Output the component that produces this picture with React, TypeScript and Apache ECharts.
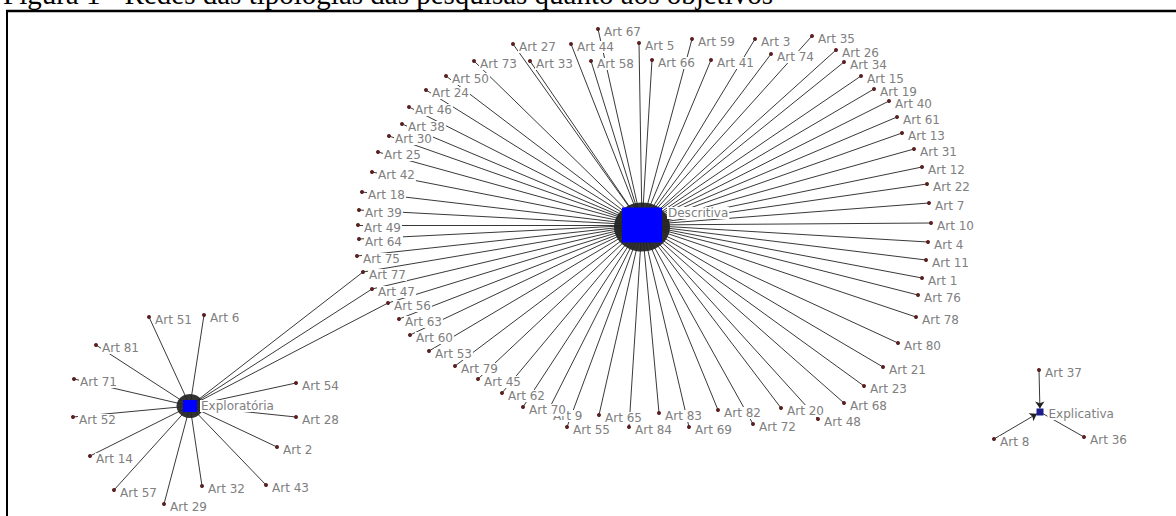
import React, { useEffect, useRef } from 'react';
import * as echarts from 'echarts';

// Hub nodes (research typologies) and their positions
const hubNames = ['Descritiva', 'Exploratória', 'Explicativa'];
const hubX = [642, 190, 1040];
const hubY = [225, 406, 412];

// Articles linked to "Descritiva": [name, x, y]
const descritivaNodes: [string, number, number][] = [
  ['Art 67', 598, 29], ['Art 27', 513, 44], ['Art 44', 571, 44], ['Art 5', 639, 43],
  ['Art 59', 692, 39], ['Art 3', 755, 39], ['Art 35', 812, 36], ['Art 73', 474, 61],
  ['Art 33', 530, 61], ['Art 58', 591, 61], ['Art 66', 652, 60], ['Art 41', 711, 60],
  ['Art 74', 771, 54], ['Art 26', 836, 50], ['Art 34', 844, 62], ['Art 15', 861, 76],
  ['Art 19', 874, 89], ['Art 40', 889, 101], ['Art 61', 897, 117], ['Art 13', 902, 133],
  ['Art 31', 914, 149], ['Art 12', 922, 167], ['Art 22', 927, 184], ['Art 7', 929, 203],
  ['Art 10', 931, 223], ['Art 4', 928, 242], ['Art 11', 926, 260], ['Art 1', 922, 278],
  ['Art 76', 918, 295], ['Art 78', 916, 317], ['Art 80', 898, 343], ['Art 21', 883, 367],
  ['Art 23', 864, 386], ['Art 68', 844, 403], ['Art 48', 818, 419], ['Art 20', 781, 408],
  ['Art 72', 753, 424], ['Art 82', 718, 410], ['Art 69', 689, 427], ['Art 83', 659, 413],
  ['Art 84', 629, 427], ['Art 65', 599, 415], ['Art 55', 567, 427], ['Art 9', 547, 413],
  ['Art 70', 523, 407], ['Art 62', 502, 393], ['Art 45', 478, 379], ['Art 79', 455, 366],
  ['Art 53', 429, 351], ['Art 60', 410, 335], ['Art 63', 399, 319], ['Art 56', 388, 303],
  ['Art 47', 372, 289], ['Art 77', 363, 272], ['Art 75', 357, 256], ['Art 64', 359, 239],
  ['Art 49', 358, 225], ['Art 39', 359, 210], ['Art 18', 362, 192], ['Art 42', 372, 172],
  ['Art 25', 378, 152], ['Art 30', 389, 136], ['Art 38', 402, 124], ['Art 46', 409, 107],
  ['Art 24', 426, 90], ['Art 50', 446, 76],
];

// Articles linked to "Exploratória": [name, x, y]
const exploratoriaNodes: [string, number, number][] = [
  ['Art 51', 149, 317], ['Art 6', 204, 315], ['Art 81', 96, 345], ['Art 71', 74, 379],
  ['Art 54', 296, 383], ['Art 52', 73, 417], ['Art 28', 296, 417], ['Art 2', 277, 447],
  ['Art 14', 90, 456], ['Art 57', 114, 490], ['Art 32', 202, 486], ['Art 43', 266, 485],
  ['Art 29', 164, 504],
];

// Articles of "Descritiva" also linked to "Exploratória"
const sharedExploratoria = ['Art 77', 'Art 47', 'Art 56'];

// Articles linked to "Explicativa": [name, x, y]
const explicativaNodes: [string, number, number][] = [
  ['Art 37', 1039, 370], ['Art 8', 994, 439], ['Art 36', 1084, 437],
];
const explicativaArrows = ['Art 37', 'Art 8'];

const title = 'Figura 1 - Redes das tipologias das pesquisas quanto aos objetivos';

export default function App() {
  const ref = useRef<HTMLDivElement>(null);

  useEffect(() => {
    if (!ref.current) return;
    const chart = echarts.init(ref.current, null, { renderer: 'svg' });

    const labelBase = {
      show: true,
      position: 'right',
      distance: 3,
      offset: [0, 3],
      color: '#808080',
      fontSize: 12,
      fontFamily: 'DejaVu Sans',
      backgroundColor: '#ffffff',
      padding: [0, 1],
    };

    const hubStyles = [
      { size: [40, 35], color: '#0000ff', label: { distance: 5, offset: [0, -12] } },
      { size: [14, 12], color: '#0000ff', label: { distance: 3, offset: [0, 0] } },
      { size: [7, 7], color: '#1c1c8c', label: { distance: 4, offset: [0, 2] } },
    ];

    const nodes: any[] = [];
    const groups = [descritivaNodes, exploratoriaNodes, explicativaNodes];
    groups.forEach((g) => {
      g.forEach(([name, x, y]) => {
        nodes.push({ name, value: [x, y] });
      });
    });
    hubNames.forEach((name, i) => {
      nodes.push({
        name,
        value: [hubX[i], hubY[i]],
        symbol: 'rect',
        symbolSize: hubStyles[i].size,
        itemStyle: { color: hubStyles[i].color },
        label: { ...labelBase, ...hubStyles[i].label },
      });
    });

    const links: any[] = [];
    groups.forEach((g, i) => {
      g.forEach(([name]) => {
        const link: any = { source: name, target: hubNames[i] };
        if (i === 2 && explicativaArrows.includes(name)) {
          link.symbol = ['none', 'arrow'];
          link.symbolSize = [0, 7];
        }
        links.push(link);
      });
    });
    sharedExploratoria.forEach((name) => links.push({ source: name, target: hubNames[1] }));

    const blobs = [
      { value: [hubX[0], hubY[0] + 2], symbolSize: [56, 49] },
      { value: [hubX[1], hubY[1]], symbolSize: [27, 24] },
    ];

    chart.setOption({
      animation: false,
      backgroundColor: '#ffffff',
      grid: { left: 0, right: 0, top: 0, bottom: 0 },
      xAxis: { type: 'value', min: 0, max: 1176, show: false },
      yAxis: { type: 'value', min: 0, max: 516, inverse: true, show: false },
      graphic: [
        {
          type: 'text',
          x: 3,
          y: -6,
          style: {
            text: title,
            fontSize: 29,
            fontFamily: '"Liberation Serif", "Times New Roman", serif',
            fill: '#000',
            verticalAlign: 'middle',
          },
        },
        { type: 'line', shape: { x1: 6, y1: 11, x2: 1176, y2: 11 }, style: { stroke: '#000', lineWidth: 2.5 } },
        { type: 'line', shape: { x1: 7, y1: 10, x2: 7, y2: 516 }, style: { stroke: '#000', lineWidth: 2 } },
      ],
      series: [
        {
          type: 'scatter',
          z: 1,
          silent: true,
          symbol: 'circle',
          itemStyle: { color: '#000' },
          data: blobs,
        },
        {
          type: 'graph',
          coordinateSystem: 'cartesian2d',
          layout: 'none',
          z: 3,
          symbol: 'circle',
          symbolSize: 4,
          itemStyle: { color: '#5a2020' },
          label: labelBase,
          lineStyle: { color: '#222222', width: 0.9, opacity: 1, curveness: 0 },
          emphasis: { disabled: true },
          data: nodes,
          links,
        },
      ],
    });

    return () => chart.dispose();
  }, []);

  return (
    <div
      ref={ref}
      style={{ position: 'absolute', left: 0, top: 0, width: 1176, height: 516 }}
    />
  );
}
